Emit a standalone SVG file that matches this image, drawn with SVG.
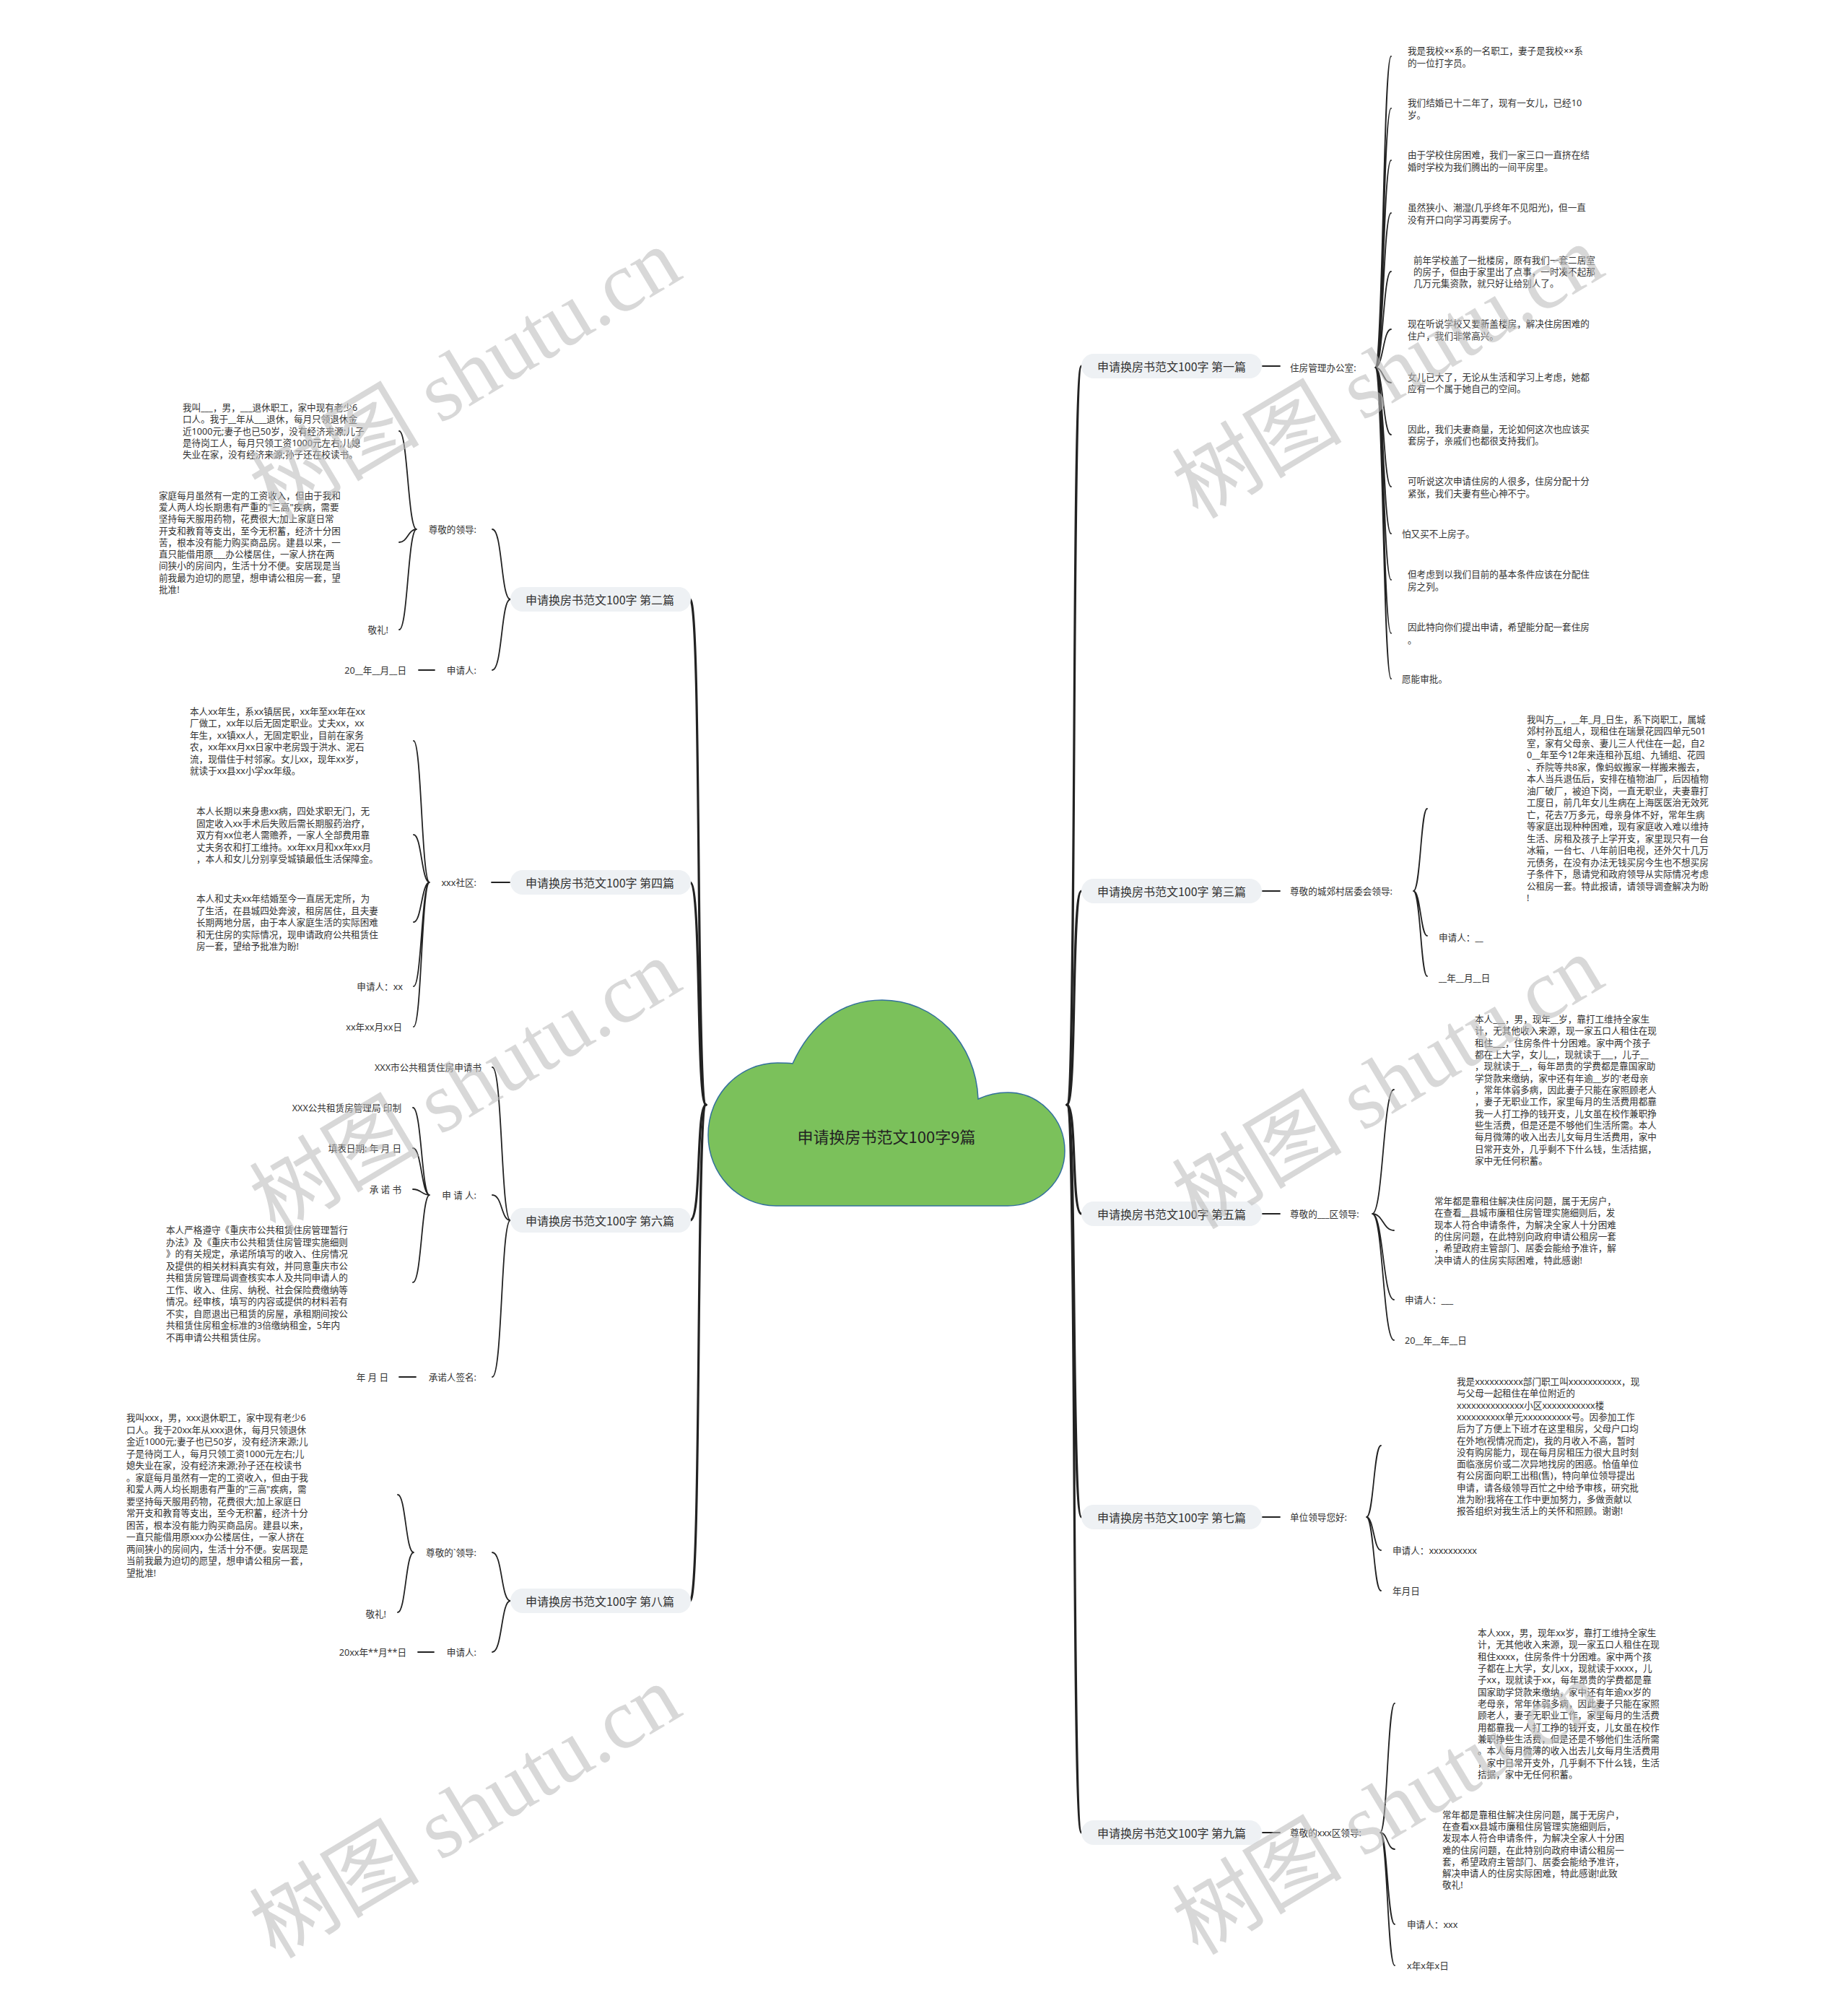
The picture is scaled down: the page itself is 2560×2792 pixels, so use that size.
<svg xmlns="http://www.w3.org/2000/svg" width="2560" height="2792" viewBox="0 0 2560 2792">
<style>
.t{font-family:"Noto Sans","Noto Sans CJK SC",sans-serif;font-size:12.6px;fill:#333;dominant-baseline:central}
.e{text-anchor:end}
.lbl{font-family:"Noto Sans CJK SC","Noto Sans",sans-serif;font-size:16px;fill:#333;text-anchor:middle;dominant-baseline:central}
.box{fill:#eef1f4}
.c{fill:none;stroke:#222;stroke-width:1.8;stroke-linecap:round}
.tr{fill:none;stroke:#222;stroke-width:3.2;stroke-linecap:round}
.wm{font-family:"Liberation Serif","Noto Sans CJK SC",serif;font-size:118px;fill:#bdbdbd;opacity:0.58;text-anchor:middle;dominant-baseline:central}
</style>
<rect width="2560" height="2792" fill="#fff"/>
<g id="connectors">
<path class="tr" d="M1478 1530 C1492 1530 1484 507 1498 507"/>
<path class="tr" d="M1478 1530 C1492 1530 1484 1234 1498 1234"/>
<path class="tr" d="M1478 1530 C1492 1530 1484 1681 1498 1681"/>
<path class="tr" d="M1478 1530 C1492 1530 1484 2101 1498 2101"/>
<path class="tr" d="M1478 1530 C1492 1530 1484 2538 1498 2538"/>
<path class="tr" d="M978 1530 C964 1530 972 830 956 830"/>
<path class="tr" d="M978 1530 C964 1530 972 1222 956 1222"/>
<path class="tr" d="M978 1530 C964 1530 972 1690 956 1690"/>
<path class="tr" d="M978 1530 C964 1530 972 2217 956 2217"/>
<path class="c" d="M1749 507 H1773 M1749 1234 H1773 M1749 1681 H1773 M1749 2101 H1773 M1749 2538 H1773"/>
<path class="c" d="M681 1222 H706 M580 928 H602 M553 1907 H576 M579 2288 H601"/>
<path class="c" d="M707 830 C694 830 696 733 682 733 M707 830 C694 830 696 928 682 928"/>
<path class="c" d="M707 1690 C694 1690 696 1478 682 1478 M707 1690 C694 1690 696 1655 682 1655 M707 1690 C694 1690 696 1907 682 1907"/>
<path class="c" d="M707 2217 C694 2217 696 2150 682 2150 M707 2217 C694 2217 696 2288 682 2288"/>
<path class="c" d="M1905 509 C1916 509 1916 78 1927 78 M1905 509 C1916 509 1916 150 1927 150 M1905 509 C1916 509 1916 222 1927 222 M1905 509 C1916 509 1916 295 1927 295 M1905 509 C1916 509 1916 376 1927 376 M1905 509 C1916 509 1916 456 1927 456 M1905 509 C1916 509 1916 530 1927 530 M1905 509 C1916 509 1916 602 1927 602 M1905 509 C1916 509 1916 674 1927 674 M1905 509 C1916 509 1916 739 1927 739 M1905 509 C1916 509 1916 803 1927 803 M1905 509 C1916 509 1916 877 1927 877 M1905 509 C1916 509 1916 940 1927 940"/>
<path class="c" d="M1958 1234 C1968 1234 1968 1120 1977 1120 M1958 1234 C1968 1234 1968 1296 1977 1296 M1958 1234 C1968 1234 1968 1352 1977 1352"/>
<path class="c" d="M1901 1681 C1916 1681 1916 1509 1931 1509 M1901 1681 C1916 1681 1916 1704 1931 1704 M1901 1681 C1916 1681 1916 1800 1931 1800 M1901 1681 C1916 1681 1916 1856 1931 1856"/>
<path class="c" d="M1893 2101 C1903 2101 1903 2002 1913 2002 M1893 2101 C1903 2101 1903 2147 1913 2147 M1893 2101 C1903 2101 1903 2203 1913 2203"/>
<path class="c" d="M1912 2538 C1922 2538 1922 2359 1932 2359 M1912 2538 C1922 2538 1922 2561 1932 2561 M1912 2538 C1922 2538 1922 2665 1932 2665 M1912 2538 C1922 2538 1922 2722 1932 2722"/>
<path class="c" d="M577 733 C565 733 565 597 553 597 M577 733 C565 733 565 751 553 751 M577 733 C565 733 565 872 553 872"/>
<path class="c" d="M595 1222 C584 1222 584 1026 573 1026 M595 1222 C584 1222 584 1156 573 1156 M595 1222 C584 1222 584 1277 573 1277 M595 1222 C584 1222 584 1366 573 1366 M595 1222 C584 1222 584 1422 573 1422"/>
<path class="c" d="M595 1655 C584 1655 584 1534 572 1534 M595 1655 C584 1655 584 1590 572 1590 M595 1655 C584 1655 584 1647 572 1647 M595 1655 C584 1655 584 1776 572 1776"/>
<path class="c" d="M573 2150 C562 2150 562 2070 551 2070 M573 2150 C562 2150 562 2233 551 2233"/>
</g>
<g id="root">
<path d="M1098 1473 C1122 1420 1165 1385 1222 1385 C1295 1385 1352 1445 1355 1522 C1368 1516 1382 1513 1396 1513 C1440 1513 1475 1550 1475 1594 C1475 1636 1440 1670 1396 1670 L1075 1670 C1022 1670 981 1625 981 1572 C981 1515 1025 1472 1077 1472 C1085 1472 1092 1472 1098 1473 Z" fill="#7bc15b" stroke="#33709c" stroke-width="1.5"/>
<text class="lbl" x="1228" y="1573" style="font-size:22px;fill:#222">申请换房书范文100字9篇</text>
</g>
<g id="b1">
<rect class="box" x="1498" y="490" width="250" height="34" rx="17"/>
<text class="lbl" x="1623" y="507">申请换房书范文100字 第一篇</text>
<text class="t" x="1787" y="509">住房管理办公室:</text>
<text class="t"><tspan x="1950" y="70">我是我校××系的一名职工，妻子是我校××系</tspan><tspan x="1950" y="87">的一位打字员。</tspan></text>
<text class="t"><tspan x="1950" y="142">我们结婚已十二年了，现有一女儿，已经10</tspan><tspan x="1950" y="159">岁。</tspan></text>
<text class="t"><tspan x="1950" y="214">由于学校住房困难，我们一家三口一直挤在结</tspan><tspan x="1950" y="231">婚时学校为我们腾出的一间平房里。</tspan></text>
<text class="t"><tspan x="1950" y="287">虽然狭小、潮湿(几乎终年不见阳光)，但一直</tspan><tspan x="1950" y="304">没有开口向学习再要房子。</tspan></text>
<text class="t"><tspan x="1958" y="360">前年学校盖了一批楼房，原有我们一套二居室</tspan><tspan x="1958" y="376">的房子，但由于家里出了点事，一时凑不起那</tspan><tspan x="1958" y="392">几万元集资款，就只好让给别人了。</tspan></text>
<text class="t"><tspan x="1950" y="448">现在听说学校又要新盖楼房，解决住房困难的</tspan><tspan x="1950" y="465">住户，我们非常高兴。</tspan></text>
<text class="t"><tspan x="1950" y="522">女儿已大了，无论从生活和学习上考虑，她都</tspan><tspan x="1950" y="538">应有一个属于她自己的空间。</tspan></text>
<text class="t"><tspan x="1950" y="594">因此，我们夫妻商量，无论如何这次也应该买</tspan><tspan x="1950" y="610">套房子，亲戚们也都很支持我们。</tspan></text>
<text class="t"><tspan x="1950" y="666">可听说这次申请住房的人很多，住房分配十分</tspan><tspan x="1950" y="683">紧张，我们夫妻有些心神不宁。</tspan></text>
<text class="t" x="1942" y="739">怕又买不上房子。</text>
<text class="t"><tspan x="1950" y="795">但考虑到以我们目前的基本条件应该在分配住</tspan><tspan x="1950" y="812">房之列。</tspan></text>
<text class="t"><tspan x="1950" y="868">因此特向你们提出申请，希望能分配一套住房</tspan><tspan x="1950" y="886">。</tspan></text>
<text class="t" x="1942" y="940">愿能审批。</text>
</g>
<g id="b3">
<rect class="box" x="1498" y="1217" width="250" height="34" rx="17"/>
<text class="lbl" x="1623" y="1234">申请换房书范文100字 第三篇</text>
<text class="t" x="1787" y="1234">尊敬的城郊村居委会领导:</text>
<text class="t"><tspan x="2115" y="996">我叫方__，__年_月_日生，系下岗职工，属城</tspan><tspan x="2115" y="1012">郊村孙瓦组人，现租住在瑞景花园四单元501</tspan><tspan x="2115" y="1029">室，家有父母亲、妻儿三人代住在一起，自2</tspan><tspan x="2115" y="1045">0__年至今12年来连租孙瓦组、九铺组、花园</tspan><tspan x="2115" y="1062">、乔院等共8家，像蚂蚁搬家一样搬来搬去，</tspan><tspan x="2115" y="1078">本人当兵退伍后，安排在植物油厂，后因植物</tspan><tspan x="2115" y="1095">油厂破厂，被迫下岗，一直无职业，夫妻靠打</tspan><tspan x="2115" y="1111">工度日，前几年女儿生病在上海医医治无效死</tspan><tspan x="2115" y="1128">亡，花去7万多元，母亲身体不好，常年生病</tspan><tspan x="2115" y="1144">等家庭出现种种困难，现有家庭收入难以维持</tspan><tspan x="2115" y="1161">生活、房租及孩子上学开支，家里现只有一台</tspan><tspan x="2115" y="1177">冰箱，一台七、八年前旧电视，还外欠十几万</tspan><tspan x="2115" y="1194">元债务，在没有办法无钱买房今生也不想买房</tspan><tspan x="2115" y="1210">子条件下，恳请党和政府领导从实际情况考虑</tspan><tspan x="2115" y="1227">公租房一套。特此报请，请领导调查解决为盼</tspan><tspan x="2115" y="1243">!</tspan></text>
<text class="t" x="1993" y="1298">申请人：__</text>
<text class="t" x="1993" y="1354">__年__月__日</text>
</g>
<g id="b5">
<rect class="box" x="1498" y="1664" width="250" height="34" rx="17"/>
<text class="lbl" x="1623" y="1681">申请换房书范文100字 第五篇</text>
<text class="t" x="1787" y="1681">尊敬的___区领导:</text>
<text class="t"><tspan x="2043" y="1411">本人___，男，现年__岁，靠打工维持全家生</tspan><tspan x="2043" y="1427">计，无其他收入来源，现一家五口人租住在现</tspan><tspan x="2043" y="1444">租住___，住房条件十分困难。家中两个孩子</tspan><tspan x="2043" y="1460">都在上大学，女儿__，现就读于___，儿子__</tspan><tspan x="2043" y="1476">，现就读于__，每年昂贵的学费都是靠国家助</tspan><tspan x="2043" y="1493">学贷款来缴纳，家中还有年逾__岁的'老母亲</tspan><tspan x="2043" y="1509">，常年体弱多病，因此妻子只能在家照顾老人</tspan><tspan x="2043" y="1525">，妻子无职业工作，家里每月的生活费用都靠</tspan><tspan x="2043" y="1542">我一人打工挣的钱开支，儿女虽在校作兼职挣</tspan><tspan x="2043" y="1558">些生活费，但是还是不够他们生活所需。本人</tspan><tspan x="2043" y="1574">每月微薄的收入出去儿女每月生活费用，家中</tspan><tspan x="2043" y="1591">日常开支外，几乎剩不下什么钱，生活拮据，</tspan><tspan x="2043" y="1607">家中无任何积蓄。</tspan></text>
<text class="t"><tspan x="1987" y="1663">常年都是靠租住解决住房问题，属于无房户，</tspan><tspan x="1987" y="1679">在查看__县城市廉租住房管理实施细则后，发</tspan><tspan x="1987" y="1696">现本人符合申请条件，为解决全家人十分困难</tspan><tspan x="1987" y="1712">的住房问题，在此特别向政府申请公租房一套</tspan><tspan x="1987" y="1728">，希望政府主管部门、居委会能给予准许，解</tspan><tspan x="1987" y="1745">决申请人的住房实际困难，特此感谢!</tspan></text>
<text class="t" x="1946" y="1800">申请人：___</text>
<text class="t" x="1946" y="1856">20__年__年__日</text>
</g>
<g id="b7">
<rect class="box" x="1498" y="2084" width="250" height="34" rx="17"/>
<text class="lbl" x="1623" y="2101">申请换房书范文100字 第七篇</text>
<text class="t" x="1787" y="2101">单位领导您好:</text>
<text class="t"><tspan x="2018" y="1913">我是xxxxxxxxxx部门职工叫xxxxxxxxxxx，现</tspan><tspan x="2018" y="1929">与父母一起租住在单位附近的</tspan><tspan x="2018" y="1946">xxxxxxxxxxxxxx小区xxxxxxxxxxx楼</tspan><tspan x="2018" y="1962">xxxxxxxxxx单元xxxxxxxxxx号。因参加工作</tspan><tspan x="2018" y="1978">后为了方便上下班才在这里租房，父母户口均</tspan><tspan x="2018" y="1995">在外地(视情况而定)，我的月收入不高，暂时</tspan><tspan x="2018" y="2011">没有购房能力，现在每月房租压力很大且时刻</tspan><tspan x="2018" y="2027">面临涨房价或二次异地找房的困惑。恰值单位</tspan><tspan x="2018" y="2043">有公房面向职工出租(售)，特向单位领导提出</tspan><tspan x="2018" y="2060">申请，请各级领导百忙之中给予审核，研究批</tspan><tspan x="2018" y="2076">准为盼!我将在工作中更加努力，多做贡献以</tspan><tspan x="2018" y="2092">报答组织对我生活上的关怀和照顾。谢谢!</tspan></text>
<text class="t" x="1929" y="2147">申请人：xxxxxxxxxx</text>
<text class="t" x="1929" y="2203">年月日</text>
</g>
<g id="b9">
<rect class="box" x="1498" y="2521" width="250" height="34" rx="17"/>
<text class="lbl" x="1623" y="2538">申请换房书范文100字 第九篇</text>
<text class="t" x="1787" y="2538">尊敬的xxx区领导:</text>
<text class="t"><tspan x="2047" y="2261">本人xxx，男，现年xx岁，靠打工维持全家生</tspan><tspan x="2047" y="2277">计，无其他收入来源，现一家五口人租住在现</tspan><tspan x="2047" y="2294">租住xxxx，住房条件十分困难。家中两个孩</tspan><tspan x="2047" y="2310">子都在上大学，女儿xx，现就读于xxxx，儿</tspan><tspan x="2047" y="2326">子xx，现就读于xx，每年昂贵的学费都是靠</tspan><tspan x="2047" y="2343">国家助学贷款来缴纳，家中还有年逾xx岁的</tspan><tspan x="2047" y="2359">老母亲，常年体弱多病，因此妻子只能在家照</tspan><tspan x="2047" y="2375">顾老人，妻子无职业工作，家里每月的生活费</tspan><tspan x="2047" y="2392">用都靠我一人打工挣的钱开支，儿女虽在校作</tspan><tspan x="2047" y="2408">兼职挣些生活费，但是还是不够他们生活所需</tspan><tspan x="2047" y="2424">。本人每月微薄的收入出去儿女每月生活费用</tspan><tspan x="2047" y="2441">，家中日常开支外，几乎剩不下什么钱，生活</tspan><tspan x="2047" y="2457">拮据，家中无任何积蓄。</tspan></text>
<text class="t"><tspan x="1998" y="2513">常年都是靠租住解决住房问题，属于无房户，</tspan><tspan x="1998" y="2529">在查看xx县城市廉租住房管理实施细则后，</tspan><tspan x="1998" y="2545">发现本人符合申请条件，为解决全家人十分困</tspan><tspan x="1998" y="2562">难的住房问题，在此特别向政府申请公租房一</tspan><tspan x="1998" y="2578">套，希望政府主管部门、居委会能给予准许，</tspan><tspan x="1998" y="2594">解决申请人的住房实际困难，特此感谢!此致</tspan><tspan x="1998" y="2610">敬礼!</tspan></text>
<text class="t" x="1949" y="2665">申请人：xxx</text>
<text class="t" x="1949" y="2722">x年x年x日</text>
</g>
<g id="b2">
<rect class="box" x="707" y="813" width="250" height="34" rx="17"/>
<text class="lbl" x="831" y="830">申请换房书范文100字 第二篇</text>
<text class="t e" x="660" y="733">尊敬的领导:</text>
<text class="t e" x="660" y="928">申请人:</text>
<text class="t e" x="563" y="928">20__年__月__日</text>
<text class="t"><tspan x="253" y="564">我叫___，男，___退休职工，家中现有老少6</tspan><tspan x="253" y="580">口人。我于__年从___退休，每月只领退休金</tspan><tspan x="253" y="597">近1000元;妻子也已50岁，没有经济来源;儿子</tspan><tspan x="253" y="613">是待岗工人，每月只领工资1000元左右;儿媳</tspan><tspan x="253" y="629">失业在家，没有经济来源;孙子还在校读书。</tspan></text>
<text class="t"><tspan x="220" y="686">家庭每月虽然有一定的工资收入，但由于我和</tspan><tspan x="220" y="702">爱人两人均长期患有严重的"三高"疾病，需要</tspan><tspan x="220" y="718">坚持每天服用药物，花费很大;加上家庭日常</tspan><tspan x="220" y="735">开支和教育等支出，至今无积蓄，经济十分困</tspan><tspan x="220" y="751">苦，根本没有能力购买商品房。建县以来，一</tspan><tspan x="220" y="767">直只能借用原___办公楼居住，一家人挤在两</tspan><tspan x="220" y="783">间狭小的房间内，生活十分不便。安居现是当</tspan><tspan x="220" y="800">前我最为迫切的愿望，想申请公租房一套，望</tspan><tspan x="220" y="816">批准!</tspan></text>
<text class="t e" x="538" y="872">敬礼!</text>
</g>
<g id="b4">
<rect class="box" x="707" y="1205" width="250" height="34" rx="17"/>
<text class="lbl" x="831" y="1222">申请换房书范文100字 第四篇</text>
<text class="t e" x="660" y="1222">xxx社区:</text>
<text class="t"><tspan x="263" y="985">本人xx年生，系xx镇居民，xx年至xx年在xx</tspan><tspan x="263" y="1001">厂做工，xx年以后无固定职业。丈夫xx，xx</tspan><tspan x="263" y="1018">年生，xx镇xx人，无固定职业，目前在家务</tspan><tspan x="263" y="1034">农，xx年xx月xx日家中老房毁于洪水、泥石</tspan><tspan x="263" y="1051">流，现借住于村邻家。女儿xx，现年xx岁，</tspan><tspan x="263" y="1067">就读于xx县xx小学xx年级。</tspan></text>
<text class="t"><tspan x="272" y="1123">本人长期以来身患xx病，四处求职无门，无</tspan><tspan x="272" y="1140">固定收入xx手术后失败后需长期服药治疗，</tspan><tspan x="272" y="1156">双方有xx位老人需赡养，一家人全部费用靠</tspan><tspan x="272" y="1173">丈夫务农和打工维持。xx年xx月和xx年xx月</tspan><tspan x="272" y="1189">，本人和女儿分别享受城镇最低生活保障金。</tspan></text>
<text class="t"><tspan x="272" y="1244">本人和丈夫xx年结婚至今一直居无定所，为</tspan><tspan x="272" y="1261">了生活，在县城四处奔波，租房居住，且夫妻</tspan><tspan x="272" y="1277">长期两地分居，由于本人家庭生活的实际困难</tspan><tspan x="272" y="1294">和无住房的实际情况，现申请政府公共租赁住</tspan><tspan x="272" y="1310">房一套，望给予批准为盼!</tspan></text>
<text class="t e" x="558" y="1366">申请人：xx</text>
<text class="t e" x="557" y="1422">xx年xx月xx日</text>
</g>
<g id="b6">
<rect class="box" x="707" y="1673" width="250" height="34" rx="17"/>
<text class="lbl" x="831" y="1690">申请换房书范文100字 第六篇</text>
<text class="t e" x="667" y="1478">XXX市公共租赁住房申请书</text>
<text class="t e" x="660" y="1655">申 请 人:</text>
<text class="t e" x="660" y="1907">承诺人签名:</text>
<text class="t e" x="538" y="1907">年 月 日</text>
<text class="t e" x="556" y="1534">XXX公共租赁房管理局 印制</text>
<text class="t e" x="556" y="1590">填表日期:  年 月 日</text>
<text class="t e" x="556" y="1647">承 诺 书</text>
<text class="t"><tspan x="230" y="1703">本人严格遵守《重庆市公共租赁住房管理暂行</tspan><tspan x="230" y="1720">办法》及《重庆市公共租赁住房管理实施细则</tspan><tspan x="230" y="1736">》的有关规定，承诺所填写的收入、住房情况</tspan><tspan x="230" y="1753">及提供的相关材料真实有效，并同意重庆市公</tspan><tspan x="230" y="1769">共租赁房管理局调查核实本人及共同申请人的</tspan><tspan x="230" y="1786">工作、收入、住房、纳税、社会保险费缴纳等</tspan><tspan x="230" y="1802">情况。经审核，填写的内容或提供的材料若有</tspan><tspan x="230" y="1819">不实，自愿退出已租赁的房屋，承租期间按公</tspan><tspan x="230" y="1835">共租赁住房租金标准的3倍缴纳租金，5年内</tspan><tspan x="230" y="1852">不再申请公共租赁住房。</tspan></text>
</g>
<g id="b8">
<rect class="box" x="707" y="2200" width="250" height="34" rx="17"/>
<text class="lbl" x="831" y="2217">申请换房书范文100字 第八篇</text>
<text class="t e" x="660" y="2150">尊敬的`领导:</text>
<text class="t e" x="660" y="2288">申请人:</text>
<text class="t e" x="563" y="2288">20xx年**月**日</text>
<text class="t"><tspan x="175" y="1963">我叫xxx，男，xxx退休职工，家中现有老少6</tspan><tspan x="175" y="1980">口人。我于20xx年从xxx退休，每月只领退休</tspan><tspan x="175" y="1996">金近1000元;妻子也已50岁，没有经济来源;儿</tspan><tspan x="175" y="2013">子是待岗工人，每月只领工资1000元左右;儿</tspan><tspan x="175" y="2029">媳失业在家，没有经济来源;孙子还在校读书</tspan><tspan x="175" y="2046">。家庭每月虽然有一定的工资收入，但由于我</tspan><tspan x="175" y="2062">和爱人两人均长期患有严重的"三高"疾病，需</tspan><tspan x="175" y="2079">要坚持每天服用药物，花费很大;加上家庭日</tspan><tspan x="175" y="2095">常开支和教育等支出，至今无积蓄，经济十分</tspan><tspan x="175" y="2112">困苦，根本没有能力购买商品房。建县以来，</tspan><tspan x="175" y="2128">一直只能借用原xxx办公楼居住，一家人挤在</tspan><tspan x="175" y="2145">两间狭小的房间内，生活十分不便。安居现是</tspan><tspan x="175" y="2161">当前我最为迫切的愿望，想申请公租房一套，</tspan><tspan x="175" y="2178">望批准!</tspan></text>
<text class="t e" x="535" y="2235">敬礼!</text>
</g>
<g id="watermarks">
<text class="wm" transform="rotate(-31 645 520)" x="645" y="520">树图 shutu.cn</text>
<text class="wm" transform="rotate(-31 1923 516)" x="1923" y="516">树图 shutu.cn</text>
<text class="wm" transform="rotate(-31 645 1505)" x="645" y="1505">树图 shutu.cn</text>
<text class="wm" transform="rotate(-31 1923 1500)" x="1923" y="1500">树图 shutu.cn</text>
<text class="wm" transform="rotate(-31 645 2510)" x="645" y="2510">树图 shutu.cn</text>
<text class="wm" transform="rotate(-31 1923 2505)" x="1923" y="2505">树图 shutu.cn</text>
</g>
</svg>
